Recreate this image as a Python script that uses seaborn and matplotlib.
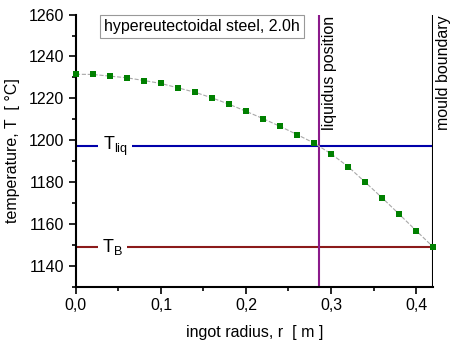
import matplotlib
matplotlib.use("Agg")
import matplotlib.pyplot as plt
import matplotlib.ticker as mticker
import seaborn as sns
import pandas as pd

# Temperature profile across the ingot radius
radius = [0.00, 0.02, 0.04, 0.06, 0.08, 0.10, 0.12, 0.14, 0.16, 0.18, 0.20,
          0.22, 0.24, 0.26, 0.28, 0.30, 0.32, 0.34, 0.36, 0.38, 0.40, 0.42]
temperature = [1231.5, 1231.4, 1230.6, 1229.8, 1228.5, 1227.1, 1225.0, 1222.9,
               1220.2, 1217.2, 1213.8, 1210.3, 1206.6, 1202.7, 1198.6, 1193.5,
               1187.4, 1180.0, 1172.5, 1164.7, 1156.8, 1149.0]

t_liq = 1197
t_b = 1149
liquidus_pos = 0.286
mould_pos = 0.42

df = pd.DataFrame({"r": radius, "T": temperature})

sns.set_style("ticks")
plt.rcParams["font.family"] = ["Liberation Sans", "DejaVu Sans"]
plt.rcParams.update({"text.color": "black", "axes.labelcolor": "black",
                     "axes.edgecolor": "black", "xtick.color": "black",
                     "ytick.color": "black"})

fig = plt.figure(figsize=(4.52, 3.4), dpi=100)
ax = fig.add_axes([0.168, 0.157, 0.79, 0.8])

# horizontal reference lines
ax.axhline(t_liq, color="#0000aa", lw=1.5, zorder=2)
ax.axhline(t_b, color="#8b1a1a", lw=1.5, zorder=2)
# vertical reference lines
ax.axvline(liquidus_pos, color="#8b1a8b", lw=1.5, zorder=2)
ax.axvline(mould_pos, color="black", lw=1.5, zorder=2)

sns.lineplot(data=df, x="r", y="T", ax=ax, color="#a8a8a8", lw=0.8,
             linestyle="--", zorder=3)
sns.scatterplot(data=df, x="r", y="T", ax=ax, marker="s", s=22,
                color="#008000", edgecolor="#008000", linewidth=0, zorder=4,
                clip_on=False)

ax.set_xlim(0, 0.42)
ax.set_ylim(1130, 1260)
ax.xaxis.set_major_locator(mticker.MultipleLocator(0.1))
ax.xaxis.set_minor_locator(mticker.MultipleLocator(0.05))
ax.yaxis.set_major_locator(mticker.MultipleLocator(20))
ax.yaxis.set_minor_locator(mticker.MultipleLocator(10))
ax.xaxis.set_major_formatter(mticker.FuncFormatter(
    lambda v, p: f"{v:.1f}".replace(".", ",")))
ax.tick_params(which="major", length=5, width=1.2, labelsize=11.5, direction="out")
ax.tick_params(which="minor", length=3, width=1.2, direction="out")

for side in ["top", "right"]:
    ax.spines[side].set_visible(False)
for side in ["left", "bottom"]:
    ax.spines[side].set_linewidth(1.5)

ax.set_xlabel("ingot radius, r  [ m ]", fontsize=11.5, labelpad=8)
ax.set_ylabel("temperature, T  [ °C]", fontsize=11.5, labelpad=6)

# line labels
ax.text(0.046, t_liq, r"T$_\mathregular{liq}$", fontsize=13, ha="center",
        va="center", zorder=5,
        bbox=dict(facecolor="white", edgecolor="none", pad=3))
ax.text(0.043, t_b, r"T$_\mathregular{B}$", fontsize=13, ha="center",
        va="center", zorder=5,
        bbox=dict(facecolor="white", edgecolor="none", pad=3))
ax.text(liquidus_pos + 0.004, 1259.5, "liquidus position", rotation=90,
        ha="left", va="top", fontsize=11.5)
ax.text(mould_pos + 0.004, 1259.5, "mould boundary", rotation=90,
        ha="left", va="top", fontsize=11.5, clip_on=False)

ax.text(0.033, 1254.3, "hypereutectoidal steel, 2.0h", fontsize=11.5,
        ha="left", va="center",
        bbox=dict(facecolor="white", edgecolor="#999999", lw=0.8, pad=3))

fig.savefig("out.png", dpi=100)
